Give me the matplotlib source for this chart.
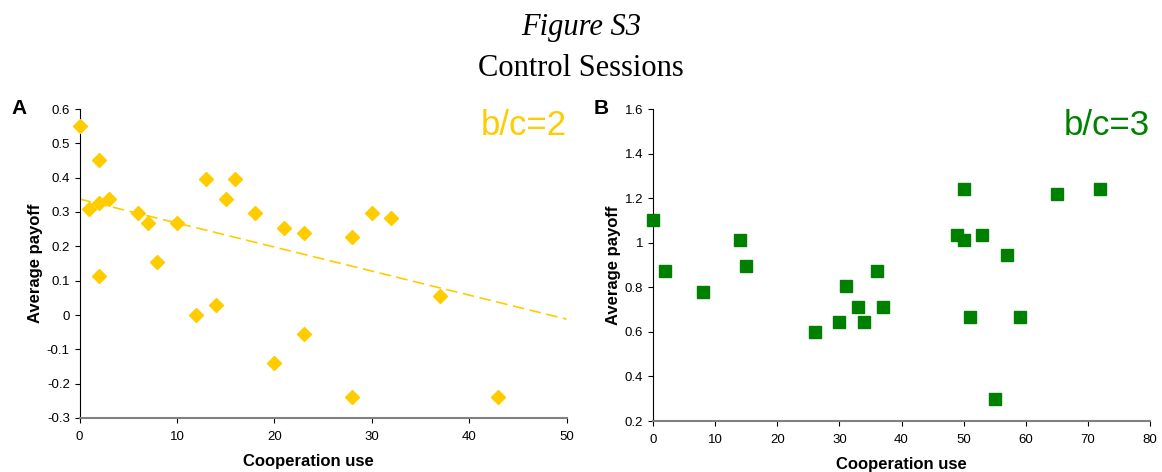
import numpy as np
import matplotlib
matplotlib.use("Agg")
import matplotlib.pyplot as plt

# Panel A: b/c = 2
coop_a = [0, 1, 2, 2, 2, 3, 6, 7, 8, 10, 12, 13, 14, 15, 16, 18, 20, 21, 23, 23, 28, 28, 30, 32, 37, 43]
payoff_a = [0.55, 0.31, 0.45, 0.325, 0.113, 0.338, 0.296, 0.268, 0.155, 0.268, 0.0, 0.395, 0.028,
            0.338, 0.395, 0.296, -0.14, 0.254, 0.24, -0.056, 0.226, -0.24, 0.296, 0.282, 0.056, -0.24]
# Linear trend for panel A
trend_intercept_a = 0.338
trend_slope_a = -0.007

# Panel B: b/c = 3
coop_b = [0, 2, 8, 14, 15, 26, 30, 31, 33, 34, 36, 37, 49, 50, 50, 51, 53, 55, 57, 59, 65, 72]
payoff_b = [1.10, 0.875, 0.78, 1.01, 0.895, 0.60, 0.645, 0.805, 0.713, 0.645, 0.875, 0.713,
            1.035, 1.24, 1.01, 0.667, 1.035, 0.30, 0.943, 0.667, 1.22, 1.24]

yticks_a = [-0.3, -0.2, -0.1, 0, 0.1, 0.2, 0.3, 0.4, 0.5, 0.6]
ylabels_a = ["-0.3", "-0.2", "-0.1", "0", "0.1", "0.2", "0.3", "0.4", "0.5", "0.6"]
yticks_b = [0.2, 0.4, 0.6, 0.8, 1.0, 1.2, 1.4, 1.6]
ylabels_b = ["0.2", "0.4", "0.6", "0.8", "1", "1.2", "1.4", "1.6"]

yellow = "#FFCC00"
green = "#008000"

plt.rcParams["font.family"] = ["Liberation Sans", "DejaVu Sans"]

W, H = 1162, 472
fig = plt.figure(figsize=(W / 100, H / 100), dpi=100)


def px_axes(left, top, right, bottom):
    return fig.add_axes([left / W, 1 - bottom / H, (right - left) / W, (bottom - top) / H])


ax_a = px_axes(79.5, 109, 566.5, 418)
ax_b = px_axes(653, 109, 1150, 421)

fig.text(0.5, 1 - 27 / H, "Figure S3", ha="center", va="center", fontsize=22,
         family=["Liberation Serif"], style="italic")
fig.text(0.5, 1 - 68 / H, "Control Sessions", ha="center", va="center", fontsize=22,
         family=["Liberation Serif"])


def style_axes(ax):
    for side in ("top", "right"):
        ax.spines[side].set_visible(False)
    ax.spines["left"].set_color("black")
    ax.spines["bottom"].set_color("#808080")
    ax.spines["bottom"].set_linewidth(1.5)
    ax.tick_params(direction="out", length=3.5, labelsize=9.5, colors="black")
    ax.tick_params(axis="x", pad=6)
    ax.set_xlabel("Cooperation use", fontsize=12, fontweight="bold", labelpad=8)
    ax.set_ylabel("Average payoff", fontsize=12, fontweight="bold", labelpad=3)


# Panel A
ax_a.plot(coop_a, payoff_a, linestyle="none", marker="D", markersize=7, color=yellow,
          markeredgecolor=yellow, clip_on=False, zorder=3)
xs = np.array([0, 50])
ax_a.plot(xs, trend_intercept_a + trend_slope_a * xs, linestyle=(0, (7, 3.3)), color=yellow,
          linewidth=1.2)
ax_a.set_xlim(0, 50)
ax_a.set_ylim(-0.3, 0.6)
ax_a.set_xticks(np.arange(0, 51, 10))
ax_a.set_yticks(yticks_a)
ax_a.set_yticklabels(ylabels_a)
style_axes(ax_a)
ax_a.xaxis.label.set_x(0.469)
ax_a.text(1.0, 1.0, "b/c=2", transform=ax_a.transAxes, ha="right", va="top",
          fontsize=25, color=yellow)
fig.text(0.010, 0.77, "A", fontsize=15, fontweight="bold", va="center")

# Panel B
ax_b.plot(coop_b, payoff_b, linestyle="none", marker="s", markersize=9, color=green,
          markeredgecolor=green, clip_on=False, zorder=3)
ax_b.set_xlim(0, 80)
ax_b.set_ylim(0.2, 1.6)
ax_b.set_xticks(np.arange(0, 81, 10))
ax_b.set_yticks(yticks_b)
ax_b.set_yticklabels(ylabels_b)
style_axes(ax_b)
ax_b.text(1.0, 1.0, "b/c=3", transform=ax_b.transAxes, ha="right", va="top",
          fontsize=25, color=green)
fig.text(0.511, 0.77, "B", fontsize=15, fontweight="bold", va="center")

fig.savefig("out.png", dpi=100)
